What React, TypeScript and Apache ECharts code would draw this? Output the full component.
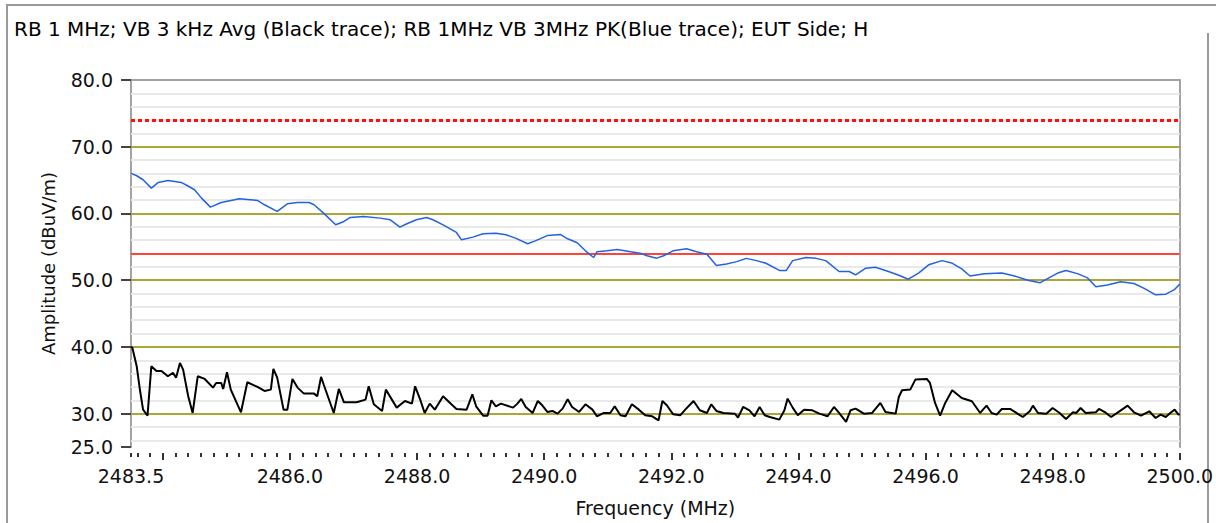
import React, { useEffect, useRef } from "react";
import * as echarts from "echarts";

const TITLE =
  "RB 1 MHz; VB 3 kHz Avg (Black trace); RB 1MHz VB 3MHz PK(Blue trace); EUT Side; H";
const X_NAME = "Frequency (MHz)";
const Y_NAME = "Amplitude (dBuV/m)";

const X_MIN = 2483.5;
const X_MAX = 2500;
const Y_MIN = 25;
const Y_MAX = 80;

const xLabelValues = [2483.5, 2486, 2488, 2490, 2492, 2494, 2496, 2498, 2500];
const xMajorTicks = [2484, 2486, 2488, 2490, 2492, 2494, 2496, 2498, 2500];
const yLabelValues = [25, 30, 40, 50, 60, 70, 80];
const oliveLines = [30, 40, 50, 60, 70];
const lightLines = [26, 28, 32, 34, 36, 38, 42, 44, 46, 48, 52, 54, 56, 58, 62, 64, 66, 68, 72, 74, 76, 78];
const avgLimit = 54;
const peakLimit = 74;

// Blue trace: peak (frequency MHz, dBuV/m)
const blueTrace: [number, number][] = [
  [2483.5, 66.0], [2483.59, 65.65], [2483.69, 65.05], [2483.82, 63.8], [2483.93, 64.65],
  [2484.08, 64.95], [2484.19, 64.8], [2484.29, 64.65], [2484.39, 64.15], [2484.5, 63.55],
  [2484.61, 62.3], [2484.75, 60.95], [2484.92, 61.65], [2485.13, 62.05], [2485.2, 62.2],
  [2485.49, 61.95], [2485.6, 61.3], [2485.8, 60.3], [2485.96, 61.45], [2486.12, 61.65],
  [2486.3, 61.65], [2486.38, 61.3], [2486.53, 60.05], [2486.72, 58.3], [2486.85, 58.8],
  [2486.95, 59.4], [2487.16, 59.55], [2487.42, 59.3], [2487.58, 59.05], [2487.73, 57.95],
  [2487.84, 58.45], [2487.99, 59.05], [2488.15, 59.4], [2488.25, 59.05], [2488.41, 58.3],
  [2488.62, 57.15], [2488.7, 56.05], [2488.88, 56.45], [2489.04, 56.95], [2489.24, 57.05],
  [2489.4, 56.8], [2489.55, 56.3], [2489.74, 55.46], [2489.85, 55.85], [2490.05, 56.68],
  [2490.26, 56.83], [2490.37, 56.2], [2490.52, 55.6], [2490.65, 54.4], [2490.73, 53.75],
  [2490.78, 53.4], [2490.83, 54.25], [2490.99, 54.4], [2491.15, 54.6], [2491.36, 54.25],
  [2491.51, 54.05], [2491.62, 53.66], [2491.77, 53.3], [2491.88, 53.66], [2492.03, 54.4],
  [2492.24, 54.7], [2492.4, 54.25], [2492.56, 53.9], [2492.71, 52.2], [2492.87, 52.44],
  [2493.03, 52.78], [2493.18, 53.27], [2493.34, 52.93], [2493.49, 52.54], [2493.7, 51.46],
  [2493.81, 51.46], [2493.91, 52.93], [2494.12, 53.4], [2494.28, 53.27], [2494.43, 52.93],
  [2494.64, 51.3], [2494.8, 51.3], [2494.9, 50.8], [2495.06, 51.8], [2495.21, 51.95],
  [2495.37, 51.46], [2495.55, 50.85], [2495.73, 50.15], [2495.89, 51.07], [2496.05, 52.3],
  [2496.26, 52.93], [2496.41, 52.59], [2496.57, 51.7], [2496.7, 50.63], [2496.93, 50.98],
  [2497.2, 51.07], [2497.4, 50.63], [2497.61, 50.0], [2497.8, 49.6], [2497.92, 50.24],
  [2498.08, 51.07], [2498.21, 51.46], [2498.39, 50.98], [2498.55, 50.34], [2498.68, 49.02],
  [2498.86, 49.27], [2499.07, 49.76], [2499.28, 49.51], [2499.44, 48.78], [2499.62, 47.8],
  [2499.78, 47.9], [2499.91, 48.54], [2500.0, 49.41],
];

// Black trace: average (frequency MHz, dBuV/m)
const blackTrace: [number, number][] = [
  [2483.5, 40.0], [2483.52, 39.9], [2483.59, 37.1], [2483.64, 33.6], [2483.69, 30.6],
  [2483.76, 29.7], [2483.82, 37.1], [2483.9, 36.4], [2483.98, 36.4], [2484.08, 35.6],
  [2484.16, 36.1], [2484.21, 35.4], [2484.27, 37.6], [2484.32, 36.6], [2484.4, 32.6],
  [2484.47, 30.1], [2484.55, 35.6], [2484.66, 35.2], [2484.79, 33.9], [2484.84, 34.6],
  [2484.92, 34.6], [2484.95, 33.7], [2485.01, 36.2], [2485.07, 33.6], [2485.23, 30.2],
  [2485.33, 34.7], [2485.49, 34.0], [2485.6, 33.4], [2485.7, 33.6], [2485.74, 36.7],
  [2485.8, 35.4], [2485.9, 30.6], [2485.96, 30.6], [2486.04, 35.2], [2486.12, 33.9],
  [2486.22, 33.0], [2486.38, 33.0], [2486.43, 32.6], [2486.49, 35.5], [2486.53, 34.4],
  [2486.69, 30.1], [2486.77, 33.7], [2486.85, 31.7], [2487.05, 31.7], [2487.19, 32.1],
  [2487.24, 34.1], [2487.32, 31.4], [2487.45, 30.4], [2487.51, 33.6], [2487.68, 30.9],
  [2487.81, 31.9], [2487.92, 31.5], [2487.97, 34.1], [2488.05, 32.1], [2488.12, 30.1],
  [2488.2, 31.5], [2488.28, 30.6], [2488.41, 32.6], [2488.54, 31.4], [2488.62, 30.7],
  [2488.78, 30.6], [2488.87, 32.9], [2488.93, 31.1], [2489.04, 29.7], [2489.11, 29.7],
  [2489.17, 32.0], [2489.24, 31.1], [2489.32, 31.5], [2489.51, 30.9], [2489.58, 31.5],
  [2489.64, 32.2], [2489.71, 31.0], [2489.82, 30.1], [2489.9, 31.9], [2489.97, 31.25],
  [2490.05, 30.25], [2490.13, 30.4], [2490.21, 30.0], [2490.29, 30.75], [2490.37, 32.15],
  [2490.44, 31.0], [2490.55, 30.25], [2490.65, 31.4], [2490.76, 30.6], [2490.83, 29.6],
  [2490.94, 30.1], [2491.04, 30.1], [2491.11, 31.1], [2491.2, 29.75], [2491.28, 29.6],
  [2491.38, 31.4], [2491.49, 30.6], [2491.59, 29.75], [2491.7, 29.6], [2491.8, 29.0],
  [2491.86, 31.9], [2491.93, 31.25], [2492.03, 29.9], [2492.14, 29.75], [2492.22, 30.6],
  [2492.35, 31.9], [2492.45, 30.5], [2492.56, 30.1], [2492.63, 31.4], [2492.71, 30.4],
  [2492.82, 30.1], [2493.0, 30.0], [2493.05, 29.4], [2493.13, 31.0], [2493.23, 30.5],
  [2493.31, 29.6], [2493.39, 31.0], [2493.47, 29.75], [2493.55, 29.5], [2493.7, 29.1],
  [2493.78, 30.5], [2493.83, 32.25], [2493.91, 30.9], [2493.99, 29.75], [2494.09, 30.6],
  [2494.22, 30.5], [2494.33, 30.0], [2494.46, 29.6], [2494.56, 31.0], [2494.64, 30.1],
  [2494.75, 28.75], [2494.82, 30.5], [2494.9, 30.75], [2495.03, 30.0], [2495.16, 30.1],
  [2495.29, 31.6], [2495.37, 30.25], [2495.53, 30.0], [2495.58, 32.5], [2495.63, 33.5],
  [2495.76, 33.6], [2495.84, 35.1], [2496.02, 35.2], [2496.07, 34.6], [2496.15, 31.6],
  [2496.23, 29.7], [2496.31, 31.6], [2496.42, 33.5], [2496.57, 32.35], [2496.73, 31.85],
  [2496.86, 30.1], [2496.96, 31.2], [2497.04, 30.1], [2497.12, 29.85], [2497.2, 30.7],
  [2497.33, 30.7], [2497.43, 30.1], [2497.53, 29.5], [2497.64, 30.35], [2497.69, 31.2],
  [2497.77, 30.1], [2497.9, 30.0], [2498.0, 30.85], [2498.11, 30.1], [2498.21, 29.2],
  [2498.32, 30.2], [2498.37, 30.1], [2498.44, 30.85], [2498.52, 30.1], [2498.68, 30.2],
  [2498.73, 30.7], [2498.84, 30.1], [2498.92, 29.5], [2499.05, 30.35], [2499.18, 31.2],
  [2499.28, 30.2], [2499.39, 29.7], [2499.52, 30.35], [2499.62, 29.35], [2499.7, 29.85],
  [2499.78, 29.5], [2499.85, 30.1], [2499.92, 30.6], [2499.98, 29.85], [2500.0, 29.9],
];

// minor x ticks every 0.2 MHz (plus the axis start), skipping the major ones
const xMinorTicks: number[] = [X_MIN];
for (let k = 24836; k < 25000; k += 2) {
  if (k % 20 !== 0) xMinorTicks.push(k / 10);
}

const FONT = "'DejaVu Sans', Verdana, sans-serif";
const AXIS_GRAY = "#a3a3a3";

export default function App() {
  const ref = useRef<HTMLDivElement>(null);

  useEffect(() => {
    if (!ref.current) return;
    const chart = echarts.init(ref.current, undefined, { renderer: "svg" });

    const gridMarks = [
      ...lightLines.map((v) => ({ yAxis: v, lineStyle: { color: "#e9e9e9", width: 2, type: "solid" } })),
      ...oliveLines.map((v) => ({ yAxis: v, lineStyle: { color: "#aaa638", width: 2, type: "solid" } })),
      { yAxis: avgLimit, lineStyle: { color: "#ff4438", width: 2, type: "solid" } },
      { yAxis: peakLimit, lineStyle: { color: "#ff1010", width: 3, type: [4, 3] } },
    ];

    chart.setOption({
      animation: false,
      backgroundColor: "#ffffff",
      title: {
        text: TITLE,
        left: 14,
        top: 19,
        padding: 0,
        textStyle: { fontFamily: FONT, fontSize: 20, fontWeight: "normal", color: "#000" },
      },
      graphic: [
        {
          type: "polyline",
          shape: { points: [[7, 523], [7, 5], [1216, 5]] },
          style: { stroke: "#9a9a9a", lineWidth: 2, fill: null },
          silent: true,
        },
        {
          type: "line",
          shape: { x1: 1208, y1: 33, x2: 1208, y2: 523 },
          style: { stroke: "#9a9a9a", lineWidth: 2 },
          silent: true,
        },
      ],
      grid: { left: 131, right: 29, top: 80, bottom: 76 },
      xAxis: [
        {
          type: "value",
          min: X_MIN,
          max: X_MAX,
          position: "bottom",
          offset: 6,
          axisLine: { show: false },
          axisTick: {
            show: true,
            customValues: xMajorTicks,
            length: 7,
            lineStyle: { color: "#333", width: 2 },
          },
          axisLabel: {
            show: true,
            customValues: xLabelValues,
            formatter: (v: number) => v.toFixed(1),
            margin: 13,
            fontFamily: FONT,
            fontSize: 19,
            color: "#111",
          },
          splitLine: { show: false },
          name: X_NAME,
          nameLocation: "middle",
          nameGap: 45,
          nameTextStyle: { fontFamily: FONT, fontSize: 19, color: "#111" },
        },
        {
          type: "value",
          min: X_MIN,
          max: X_MAX,
          position: "bottom",
          offset: 6,
          axisLine: { show: false },
          axisTick: {
            show: true,
            customValues: xMinorTicks,
            length: 4,
            lineStyle: { color: "#333", width: 2 },
          },
          axisLabel: { show: false },
          splitLine: { show: false },
        },
        {
          type: "value",
          min: X_MIN,
          max: X_MAX,
          position: "top",
          axisLine: { show: true, lineStyle: { color: AXIS_GRAY, width: 2 } },
          axisTick: { show: false },
          axisLabel: { show: false },
          splitLine: { show: false },
        },
      ],
      yAxis: [
        {
          type: "value",
          min: Y_MIN,
          max: Y_MAX,
          position: "left",
          axisLine: { show: true, lineStyle: { color: AXIS_GRAY, width: 2 } },
          axisTick: {
            show: true,
            customValues: yLabelValues,
            length: 10,
            lineStyle: { color: "#444", width: 2 },
          },
          axisLabel: {
            show: true,
            customValues: yLabelValues,
            formatter: (v: number) => v.toFixed(1),
            margin: 18,
            fontFamily: FONT,
            fontSize: 19,
            color: "#111",
          },
          splitLine: { show: false },
          name: Y_NAME,
          nameLocation: "middle",
          nameGap: 74,
          nameTextStyle: { fontFamily: FONT, fontSize: 18, color: "#111" },
        },
        {
          type: "value",
          min: Y_MIN,
          max: Y_MAX,
          position: "right",
          axisLine: { show: true, lineStyle: { color: AXIS_GRAY, width: 2 } },
          axisTick: { show: false },
          axisLabel: { show: false },
          splitLine: { show: false },
        },
      ],
      series: [
        {
          name: "grid",
          type: "line",
          data: [],
          z: 1,
          silent: true,
          markLine: {
            z: 1,
            silent: true,
            symbol: ["none", "none"],
            label: { show: false },
            emphasis: { disabled: true },
            animation: false,
            data: gridMarks,
          },
        },
        {
          name: "Peak (blue)",
          type: "line",
          data: blueTrace,
          symbol: "none",
          silent: true,
          z: 3,
          lineStyle: { color: "#2462e3", width: 1.5 },
        },
        {
          name: "Average (black)",
          type: "line",
          data: blackTrace,
          symbol: "none",
          silent: true,
          z: 4,
          lineStyle: { color: "#000000", width: 2 },
        },
      ],
    });

    return () => chart.dispose();
  }, []);

  return (
    <div
      ref={ref}
      style={{ position: "fixed", left: 0, top: 0, width: 1216, height: 523, background: "#fff" }}
    />
  );
}
